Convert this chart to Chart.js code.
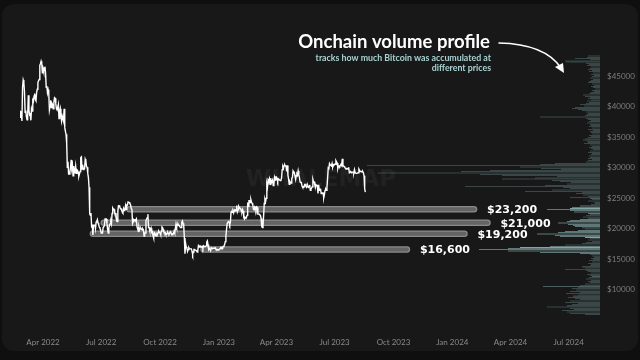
<!DOCTYPE html>
<html><head><meta charset="utf-8">
<script src="https://cdn.jsdelivr.net/npm/chart.js@4"></script>
<style>
html,body{margin:0;padding:0;background:#0f0f0f;width:640px;height:360px;overflow:hidden}
#card{position:absolute;left:2px;top:4px;width:636px;height:347px;background:#181818;border-radius:12px}
#wrap{position:absolute;left:0;top:0;width:640px;height:360px}
</style></head><body>
<div id="card"></div>
<div id="wrap"><canvas id="c" width="640" height="360"></canvas></div>
<script>
// ---- data ----
const startDate = '2022-02-24'; // first daily price
const prices = [
38300,39200,39100,37700,43200,
44400,44000,42500,39100,39400,38400,37900,38700,41900,39400,38700,38800,37800,39700,39300,41100,40900,41800,42200,41200,41000,42400,42900,44000,44300,44500,46800,47100,47500,47100,45500,
46300,45800,46400,46600,45500,43200,43400,42300,42800,42200,39500,40100,41100,39900,40600,40400,39700,40800,41500,41400,40500,39700,39500,39500,40400,38100,39200,39700,38600,37700,
38500,38500,37700,39700,36600,36000,35500,34100,30100,31000,29000,29000,29300,30100,31300,29900,30400,28700,30300,29200,29400,30300,29100,29700,29600,29300,28600,29000,29400,31700,31800,
29800,30500,29700,29900,29900,31400,31100,30200,30100,29100,28400,26800,22500,22200,22600,20400,20500,19000,20600,20600,20700,20000,21100,21200,21500,21000,20700,20300,20100,19800,
19300,19300,19300,20200,20200,20500,21600,21600,21600,20900,19900,19300,20200,20600,20800,21200,20800,22500,23400,23200,23200,22700,22500,22600,21300,21200,22900,23800,23800,23600,23300,
23300,23000,22800,22600,23300,23000,23200,23800,23200,23900,23900,24400,24400,24300,24100,23900,23300,23200,20900,21200,21500,21400,21500,21400,21600,20300,20000,19600,20300,19800,20000,
20100,19900,19800,20000,19800,18800,19300,19300,21400,21600,21800,22400,20200,20200,19700,19800,20100,19400,19500,18900,18500,19400,19300,18900,18800,19200,19100,19400,19600,19400,
19300,19000,19600,20300,20200,19900,19500,19400,19400,19100,19100,19200,19400,19200,19100,19300,19500,19300,19100,19000,19200,19200,19600,19300,20100,20800,20300,20600,20800,20600,20500,
20500,20200,20200,21100,21300,20900,20600,18500,15900,17600,17000,16800,16300,16600,16900,16700,16700,16700,16700,16300,15800,16200,16600,16600,16500,16500,16400,16200,16400,17200,
17000,17100,17000,17100,17000,17100,16800,17200,17100,17100,17100,17200,17800,18000,17400,16600,16800,16800,16400,16900,16800,16800,16800,16800,16800,16900,16700,16500,16600,16600,16500,
16600,16700,16700,16900,16800,17000,16900,17100,17200,17400,17900,18800,19900,20900,20900,21200,21100,20700,21100,22700,22800,22700,22900,22600,23100,23000,23100,23000,23800,22800,23100,
23700,23500,23400,23300,22900,22800,23200,22900,21800,21600,21900,21800,21800,22200,24300,23700,24600,24600,24300,24800,24400,24200,23900,23200,23100,23600,23500,23100,
23600,23500,22400,22400,22400,22400,22200,21700,20400,20200,20600,22200,24200,24800,24400,25000,27400,26900,28000,27800,28200,27300,28300,27500,27500,28000,27100,27300,28400,28000,28500,
28500,28200,27800,28200,28200,28000,27900,28000,28300,29700,30200,29900,30400,30500,30300,30300,29400,30400,28800,28200,27300,27800,27600,27500,28300,28400,29500,29300,29200,29200,
28100,28700,29000,28800,29500,28900,28400,27700,27600,27600,27000,26800,26800,26900,27200,27000,27400,26800,26900,27100,26800,26900,27200,26300,26500,26700,26900,28100,27700,27700,27200,
26800,27200,27100,27100,25800,27200,26300,26500,26500,25800,25900,25900,25900,25100,25600,26300,26500,26300,26800,28300,30000,29900,30700,30500,30500,30300,30700,30100,30400,30500,
30600,30600,31200,31000,30800,29900,30300,30300,30200,30400,30600,30400,31500,30300,30300,30200,30100,29900,29800,29900,29900,29800,30100,29200,29200,29400,29200,29300,29300,29300,29200,
29700,29200,29200,29100,29100,29100,29200,29800,29600,29400,29400,29400,29300,29400,29200,28700,26600,26000
];
const tickDates = ['2022-04-01','2022-07-01','2022-10-01','2023-01-01','2023-04-01','2023-07-01','2023-10-01','2024-01-01','2024-04-01','2024-07-01'];
const tickLabels = ['Apr 2022','Jul 2022','Oct 2022','Jan 2023','Apr 2023','Jul 2023','Oct 2023','Jan 2024','Apr 2024','Jul 2024'];
const xEndDate = '2024-08-19';
const yTicks = [10000,15000,20000,25000,30000,35000,40000,45000];

const supportLevels = [23200, 21000, 19200, 16600];
const supportLabels = ['$23,200','$21,000','$19,200','$16,600'];
const supportStart = ['2022-08-14','2022-07-05','2022-06-18','2022-12-08'];
const supportEnd   = ['2024-02-04','2024-02-25','2024-01-20','2023-10-22'];

const profilePrices = [
48400,48200,48000,47800,47600,47400,47200,47000,46800,46600,46400,46200,46000,45800,45600,45400,45200,
45000,44800,44600,44400,44200,44000,43800,43600,43400,43200,43000,42800,42600,42400,42200,
42000,41800,41600,41400,41200,41000,40800,40600,40400,40200,40000,39800,39600,39400,39200,
39000,38800,38600,38400,38200,38000,37800,37600,37400,37200,37000,36800,36600,36400,36200,
36000,35800,35600,35400,35200,35000,34800,34600,34400,34200,34000,33800,33600,33400,33200,
33000,32800,32600,32400,32200,32000,31800,31600,31400,31200,31000,30800,30600,30400,30200,
30000,29800,29600,29400,29200,29000,28800,28600,28400,28200,28000,27800,27600,27400,27200,
27000,26800,26600,26400,26200,26000,25800,25600,25400,25200,25000,24800,24600,24400,24200,
24000,23800,23600,23400,23200,23000,22800,22600,22400,22200,22000,21800,21600,21400,21200,
21000,20800,20600,20400,20200,20000,19800,19600,19400,19200,19000,18800,18600,18400,18200,
18000,17800,17600,17400,17200,17000,16800,16600,16400,16200,16000,15800,15600,15400,15200,
15000,14800,14600,14400,14200,14000,13800,13600,13400,13200,13000,12800,12600,12400,12200,
12000,11800,11600,11400,11200,11000,10800,10600,10400,10200,10000,9800,9600,9400,9200,
9000,8800,8600,8400,8200,8000,7800,7600,7400,7200,7000,6800,6600,6400,6200,6000
];
const profileVolume = [
12,13,25,10,35,34,14,11,13,9,10,12,8,11,7,9,6,
8,10,7,9,11,12,8,6,9,7,5,8,6,9,11,
17,15,10,12,9,13,11,14,20,16,25,28,22,18,14,
12,13,15,60,14,12,9,11,13,10,9,11,8,12,7,
10,9,8,11,9,12,15,17,13,12,16,10,8,11,9,
7,10,12,8,9,11,10,12,8,12,14,45,60,233,80,
59,39,110,139,222,120,98,43,65,98,48,40,29,33,55,
135,37,30,48,75,18,24,17,12,30,10,8,12,6,5,
9,20,28,30,53,30,26,12,10,14,17,12,20,30,33,
42,32,27,25,18,15,22,35,42,63,45,40,15,10,12,
8,14,18,35,50,80,92,121,92,60,20,10,8,6,9,
7,11,8,12,9,10,18,15,35,14,12,9,13,10,8,
11,14,9,12,10,15,20,57,22,28,24,30,20,34,22,
27,32,25,20,30,35,22,28,33,53,30,26,38,33,30,15
];

// ---- helpers ----
const DAY = 86400000;
const dayOf = d => Math.round((Date.parse(d) - Date.parse(startDate)) / DAY);

const pricePoints = prices.map((p, i) => ({x: i, y: p}));
const tickDays = tickDates.map(dayOf);

const datasets = [];
datasets.push({
  type: 'line', label: 'BTC', data: pricePoints, xAxisID: 'x', yAxisID: 'y',
  borderColor: '#ffffff', borderWidth: 1.4, pointRadius: 0, tension: 0, order: 0
});
supportLevels.forEach((lv, k) => {
  const pts = [{x: dayOf(supportStart[k]), y: lv}, {x: dayOf(supportEnd[k]), y: lv}];
  datasets.push({type: 'line', data: pts, xAxisID: 'x', yAxisID: 'y', borderColor: '#8a8a8a',
    borderWidth: 6.5, borderCapStyle: 'round', pointRadius: 0, order: 2});
  datasets.push({type: 'line', data: pts, xAxisID: 'x', yAxisID: 'y', borderColor: '#646464',
    borderWidth: 4, borderCapStyle: 'round', pointRadius: 0, order: 1});
});
const isHi = p => supportLevels.some(l => Math.abs(p - l) <= 600);
datasets.push({
  type: 'bar', indexAxis: 'y', xAxisID: 'x2', yAxisID: 'y', order: 5,
  data: profilePrices.map((p, i) => ({x: profileVolume[i], y: p})),
  backgroundColor: ctx => isHi(profilePrices[ctx.dataIndex]) ? '#a6d6d6' : '#5e7777',
  barPercentage: 0.85, categoryPercentage: 1, borderWidth: 0
});

const overlay = {
  id: 'overlay',
  beforeDatasetsDraw(chart) {
    const c = chart.ctx;
    c.save();
    c.font = 'bold 23px "DejaVu Sans"';
    c.fillStyle = '#222222';
    c.textAlign = 'center'; c.textBaseline = 'middle';
    c.fillText('WHALEMAP', 321, 180);
    c.restore();
  },
  afterDatasetsDraw(chart) {
    const c = chart.ctx, xs = chart.scales.x, ys = chart.scales.y;
    c.save();
    // support labels
    c.font = 'bold 11px "DejaVu Sans"';
    c.fillStyle = '#ffffff'; c.textAlign = 'left'; c.textBaseline = 'middle';
    supportLevels.forEach((lv, k) => {
      c.fillText(supportLabels[k], xs.getPixelForValue(dayOf(supportEnd[k])) + 13, ys.getPixelForValue(lv) + 1);
    });
    // title
    c.textAlign = 'right';
    c.font = 'bold 18.5px Lato';
    c.fillText('Onchain volume profile', 490, 42);
    c.font = 'bold 8.8px Lato';
    c.fillStyle = '#a9d3d3';
    c.fillText('tracks how much Bitcoin was accumulated at', 491, 58.5);
    c.fillText('different prices', 491, 68.5);
    // arrow
    c.strokeStyle = '#ffffff'; c.lineWidth = 1.6; c.lineCap = 'round';
    c.beginPath(); c.moveTo(499, 43); c.quadraticCurveTo(545, 44, 561, 68); c.stroke();
    c.fillStyle = '#ffffff';
    c.beginPath(); c.moveTo(564, 73); c.lineTo(555, 67); c.lineTo(563, 63); c.closePath(); c.fill();
    c.restore();
  }
};

new Chart(document.getElementById('c'), {
  type: 'line',
  data: {datasets},
  options: {
    responsive: false, animation: false, events: [],
    layout: {padding: {left: 20, right: 0, top: 36.6, bottom: 0}},
    plugins: {legend: {display: false}, tooltip: {enabled: false}},
    scales: {
      x: {
        type: 'linear', position: 'bottom', min: 0, max: dayOf(xEndDate),
        afterBuildTicks: s => { s.ticks = tickDays.map(v => ({value: v})); },
        afterFit: s => { s.height = 27.4; },
        ticks: {autoSkip: false, maxRotation: 0, padding: 5, color: '#8a8a8a', font: {size: 8, family: 'Lato'},
          callback: (v) => tickLabels[tickDays.indexOf(v)] },
        grid: {display: false, drawTicks: false}, border: {display: false}
      },
      x2: {type: 'linear', axis: 'x', position: 'bottom', reverse: true, min: 0, max: 580, display: false},
      y: {
        type: 'linear', position: 'right', min: 6000, max: 48500,
        afterBuildTicks: s => { s.ticks = yTicks.map(v => ({value: v})); },
        afterFit: s => { s.width = 40; },
        ticks: {padding: 7, color: '#7e7e7e', font: {size: 8, family: 'Lato'}, callback: v => '$' + v},
        grid: {display: false, drawTicks: false}, border: {display: false}
      }
    }
  },
  plugins: [overlay]
});
</script>
</body></html>
